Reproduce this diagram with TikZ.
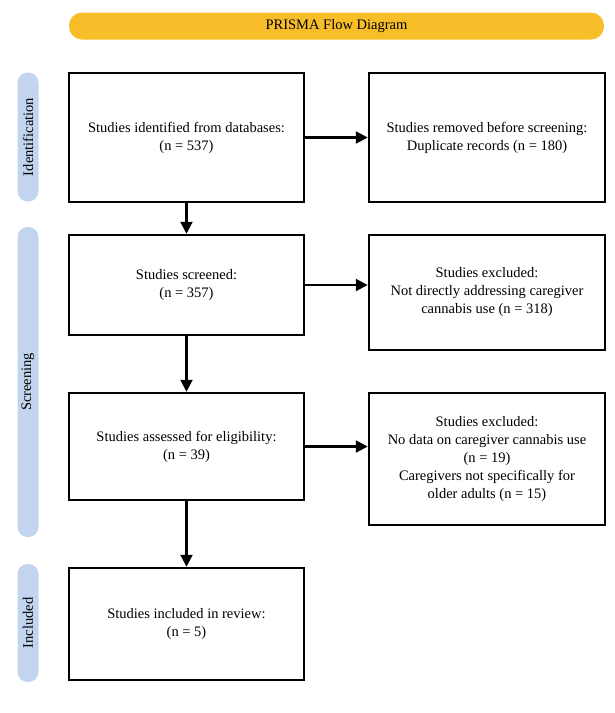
\documentclass[tikz,border=0pt]{standalone}
\usepackage{fontspec}
\setmainfont{Liberation Serif}
\usetikzlibrary{arrows.meta}
\definecolor{pillc}{HTML}{C3D5EE}
\definecolor{titc}{HTML}{F7BE2A}
\begin{document}
\begin{tikzpicture}[x=1pt,y=-1pt,
 box/.style={draw,line width=2.5pt,align=center,font=\fontsize{14.5}{18}\selectfont},
 pill/.style={fill=pillc,rounded corners=10pt,draw=none,font=\fontsize{14.5}{18}\selectfont,minimum height=21pt,inner sep=0pt},
 arr/.style={-{Triangle[length=12pt,width=12pt]},line width=2.2pt}]
\useasboundingbox (0,0) rectangle (614,713);
\node[fill=titc,rounded corners=13pt,minimum width=535pt,minimum height=27pt,font=\fontsize{14.5}{17}\selectfont] (title) at (336.5,26) {PRISMA Flow Diagram};
\node[pill,minimum width=129pt,rotate=90] (p1) at (28,137) {Identification};
\node[pill,minimum width=310pt,rotate=90] (p2) at (28,382) {Screening};
\node[pill,minimum width=118pt,rotate=90] (p3) at (28,623) {Included};
\node[box,minimum width=235pt,minimum height=129pt] (a) at (186.5,137.5) {Studies identified from databases:\\(n = 537)};
\node[box,minimum width=236pt,minimum height=129pt] (b) at (487,137.5) {Studies removed before screening:\\Duplicate records (n = 180)};
\node[box,minimum width=235pt,minimum height=100pt] (c) at (186.5,285) {Studies screened:\\(n = 357)};
\node[box,minimum width=236pt,minimum height=115pt] (d) at (487,292.5) {Studies excluded:\\Not directly addressing caregiver\\cannabis use (n = 318)};
\node[box,minimum width=235pt,minimum height=107pt] (e) at (186.5,446.5) {Studies assessed for eligibility:\\(n = 39)};
\node[box,minimum width=236pt,minimum height=132pt] (f) at (487,459) {Studies excluded:\\No data on caregiver cannabis use\\(n = 19)\\Caregivers not specifically for\\older adults (n = 15)};
\node[box,minimum width=235pt,minimum height=112pt] (g) at (186.5,624) {Studies included in review:\\(n = 5)};
\draw[arr] (a.east) -- (b.west);
\draw[arr] (c.east) -- (c.east -| d.west);
\draw[arr] (e.east) -- (e.east -| f.west);
\draw[arr] (a.south) -- (c.north);
\draw[arr] (c.south) -- (e.north);
\draw[arr] (e.south) -- (g.north);
\end{tikzpicture}
\end{document}
